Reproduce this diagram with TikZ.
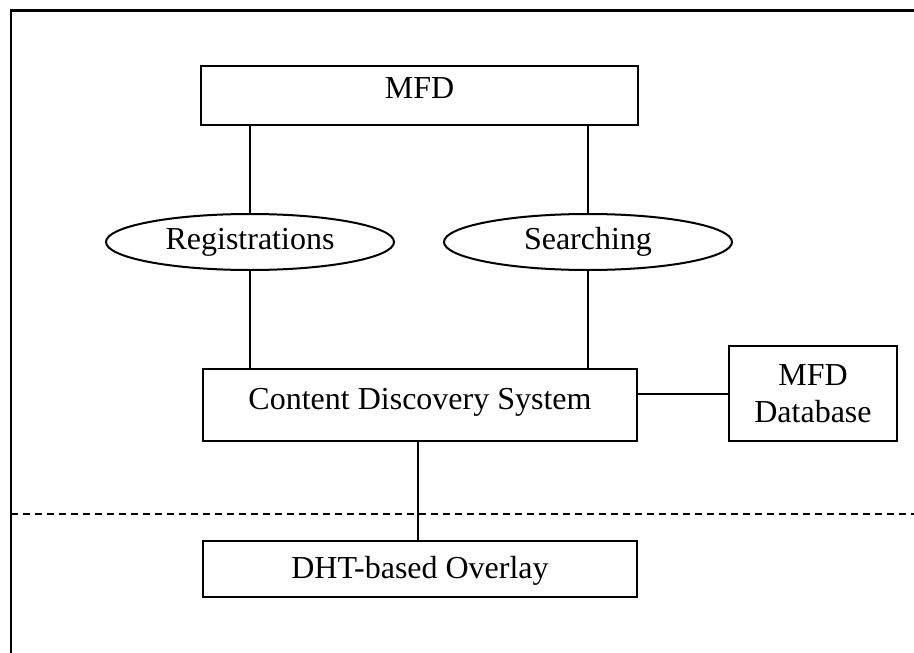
\documentclass[tikz,border=0pt]{standalone}
\usepackage{fontspec}
\setmainfont{Liberation Serif}
\usetikzlibrary{shapes.geometric}
\begin{document}
\begin{tikzpicture}[x=1pt,y=-1pt,
  boxnode/.style={draw,line width=2pt,rectangle,inner sep=0pt,align=center,
    font=\fontsize{32}{37}\selectfont},
  ovalnode/.style={draw,line width=2pt,ellipse,inner sep=0pt,
    minimum width=288pt,minimum height=56pt,font=\fontsize{32}{37}\selectfont},
  link/.style={line width=2pt},
  frameline/.style={line width=2.6pt}]
\useasboundingbox (0,0) rectangle (914,653);
% frame (open to the right and bottom)
\coordinate (ftl) at (11,10.5);
\coordinate (ftr) at (914,10.5);
\coordinate (fbl) at (11,653);
\draw[frameline] (ftr) -- (ftl) -- (fbl);
% boxes
\node[boxnode,minimum width=437pt,minimum height=59pt,text depth=14pt] (mfd) at (419.5,95.5) {MFD};
\node[ovalnode] (reg) at (250,242) {Registrations};
\node[ovalnode] (srch) at (588,242) {Searching};
\node[boxnode,minimum width=434pt,minimum height=72pt,text depth=12pt] (cds) at (420,405) {Content Discovery System};
\node[boxnode,minimum width=168pt,minimum height=95pt] (db) at (813,393.5) {MFD\\Database};
\node[boxnode,minimum width=434pt,minimum height=56pt,text depth=3pt] (dht) at (420,569) {DHT-based Overlay};
% connectors
\draw[link] (mfd.south -| reg.north) -- (reg.north);
\draw[link] (mfd.south -| srch.north) -- (srch.north);
\draw[link] (reg.south) -- (reg.south |- cds.north);
\draw[link] (srch.south) -- (srch.south |- cds.north);
\draw[link] (cds.east |- db.west) -- (db.west);
\coordinate (cdsb) at (418,441);
\draw[link] (cds.south -| cdsb) -- (dht.north -| cdsb);
% layer boundary
\coordinate (dl) at (11,514);
\coordinate (dr) at (914,514);
\draw[line width=1.8pt,dash pattern=on 7pt off 5pt] (dl) -- (dr);
\end{tikzpicture}
\end{document}
